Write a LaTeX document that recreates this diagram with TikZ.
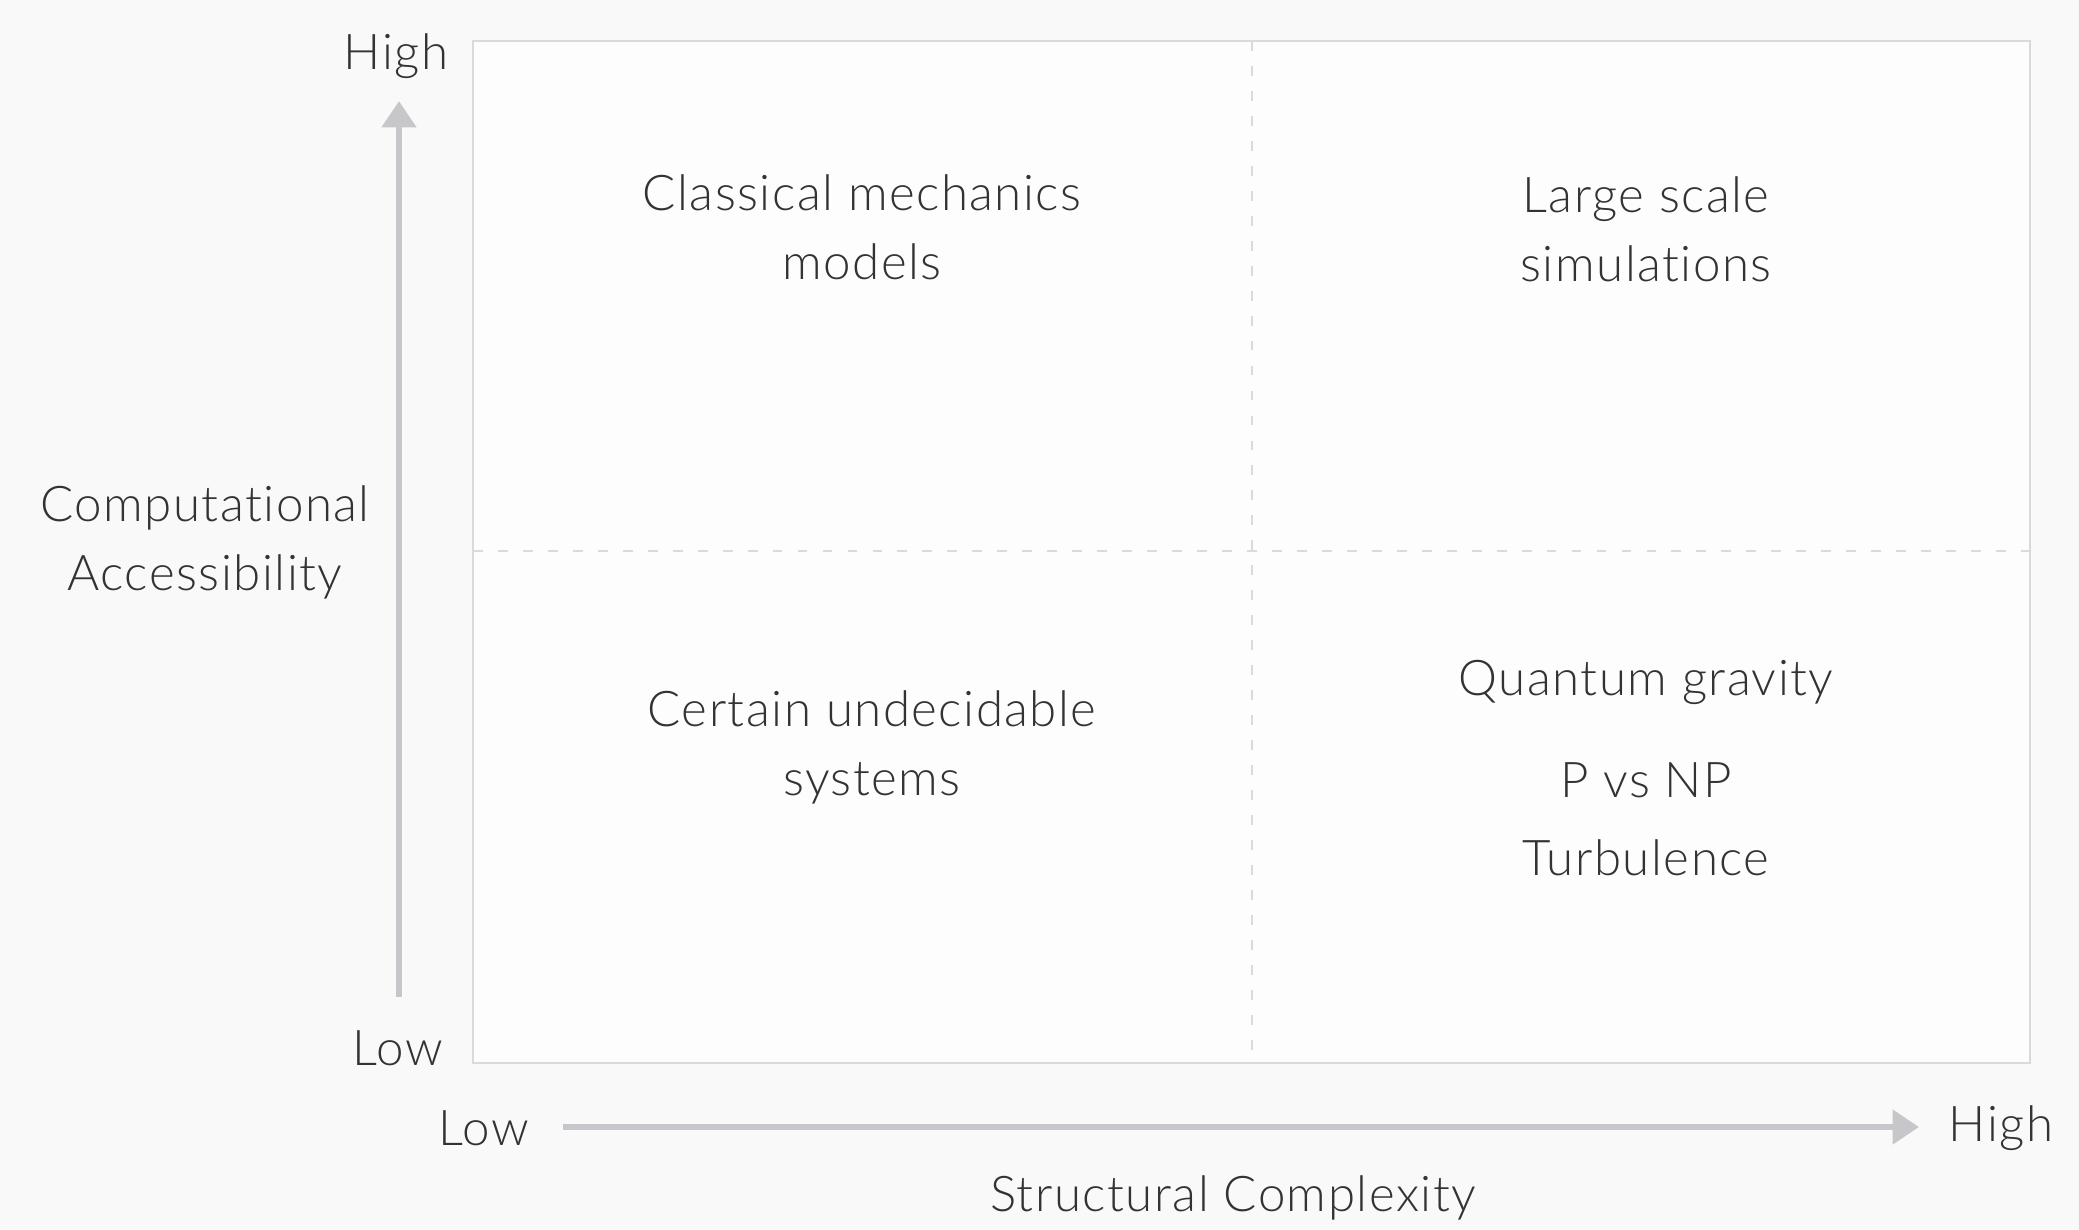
\documentclass[tikz,border=0pt]{standalone}
\usepackage{fontspec}
\setmainfont{Lato Light}[Ligatures=NoCommon, LetterSpace=3]
\usepackage{tikz}
\usetikzlibrary{positioning, arrows.meta}

\definecolor{paper}{HTML}{F9F9F9}
\definecolor{ink}{HTML}{333333}
\definecolor{frame}{HTML}{DADADA}
\definecolor{axisgray}{HTML}{C6C6CB}

\tikzstyle{lbl} = [text=ink, inner sep=0pt,
    font=\fontsize{14}{19.6}\selectfont]
\tikzstyle{quad} = [lbl, align=center]
\tikzstyle{axis} = [draw=axisgray, line width=1.8pt,
    -{Triangle[width=9.5pt, length=7.5pt]}]
\tikzstyle{divider} = [draw=frame, line width=0.5pt,
    dash pattern=on 2.8pt off 4.3pt]

\begin{document}
\begin{tikzpicture}[x=0.01cm, y=-0.01cm, node distance=1cm]

    % page
    \fill[paper] (0,0) rectangle (2079,1229);
    \useasboundingbox (0,0) rectangle (2079,1229);

    % frame and quadrant split
    \draw[frame, fill=white!60!paper, line width=0.6pt]
        (473,41) rectangle (2030,1063);
    \draw[divider] (1252,41) -- (1252,1063);
    \draw[divider] (473,551) -- (2030,551);

    % vertical axis
    \node[lbl] (yhi) at (396,56) {High};
    \node[lbl] (ylo) at (398,1048) {Low};
    \coordinate (ytop) at (399,101);
    \coordinate (ybot) at (399,997);
    \draw[axis] (ybot) -- (ytop);

    \node[
        quad
    ](ytitle) at (205,542){Computational\\Accessibility};

    % horizontal axis
    \node[lbl] (xlo) at (484,1128) {Low};
    \node[lbl] (xhi) at (2001,1128) {High};
    \coordinate (xleft) at (563,1127);
    \coordinate (xright) at (1919,1127);
    \draw[axis] (xleft) -- (xright);

    \node[lbl] (xtitle) at (1233,1198) {Structural Complexity};

    % quadrants
    \node[
        quad
    ](classic) at (862,227){Classical mechanics\\models};

    \node[
        quad
    ](largesim) at (1646,229){Large scale\\simulations};

    \node[
        quad
    ](undec) at (872,747){Certain undecidable\\systems};

    \node[quad] (qgrav) at (1646,682) {Quantum gravity};
    \node[quad, below=28pt of qgrav.center, anchor=center]
        (pnp) {P vs NP};
    \node[quad, below=22pt of pnp.center, anchor=center]
        (turb) {Turbulence};

\end{tikzpicture}
\end{document}
